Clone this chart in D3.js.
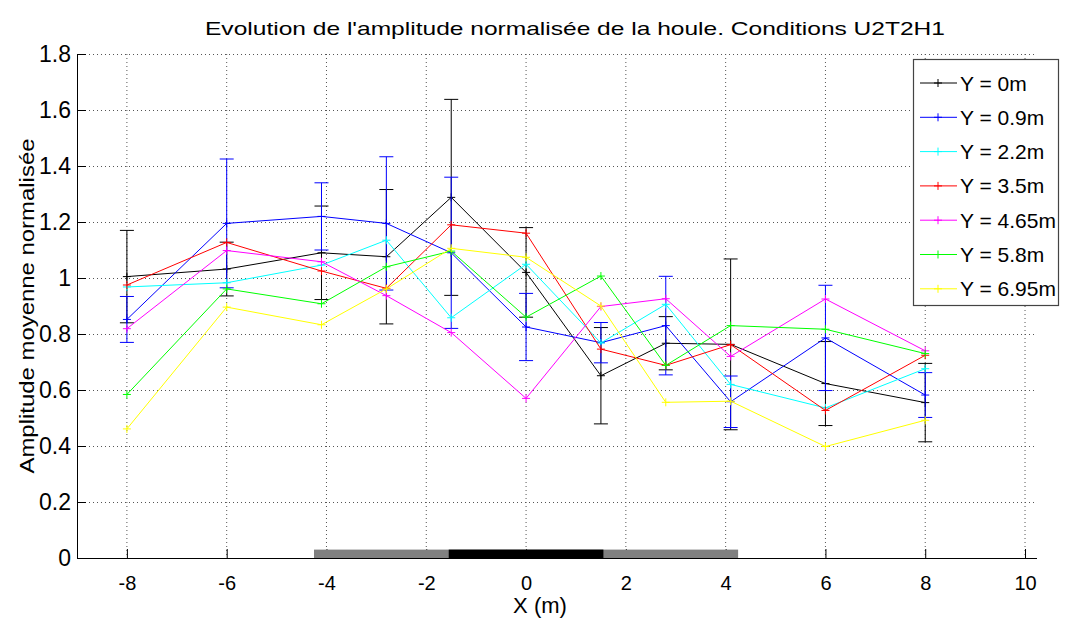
<!DOCTYPE html>
<html><head><meta charset="utf-8">
<script src="https://cdn.jsdelivr.net/npm/d3@7"></script>
<style>
body{margin:0;background:#fff;}
text{font-family:"Liberation Sans",Arial,Helvetica,sans-serif;}
</style></head>
<body><svg id="c" width="1065" height="619"></svg>
<script>
// ---- data ----
const xPos = [-8, -6, -4.1, -2.8, -1.5, 0, 1.5, 2.8, 4.1, 6, 8];
const seriesNames = ["Y = 0m","Y = 0.9m","Y = 2.2m","Y = 3.5m","Y = 4.65m","Y = 5.8m","Y = 6.95m"];
const seriesColors = ["#000000","#0000ff","#00ffff","#ff0000","#ff00ff","#00ff00","#ffff00"];
const y0   = [1.005, 1.032, 1.09, 1.076, 1.288, 1.02, 0.651, 0.767, 0.763, 0.623, 0.555];
const err0 = [0.165, 0.096, 0.167, 0.24, 0.35, 0.16, 0.172, 0.095, 0.305, 0.15, 0.14];
const y09  = [0.852, 1.195, 1.22, 1.195, 1.09, 0.825, 0.769, 0.83, 0.558, 0.786, 0.582];
const err09= [0.082, 0.23, 0.12, 0.238, 0.27, 0.12, 0.072, 0.176, 0.092, 0.188, 0.08];
const y22  = [0.968, 0.983, 1.046, 1.135, 0.858, 1.049, 0.768, 0.906, 0.62, 0.536, 0.676];
const y35  = [0.975, 1.127, 1.025, 0.963, 1.19, 1.16, 0.746, 0.688, 0.762, 0.527, 0.724];
const y465 = [0.819, 1.098, 1.058, 0.937, 0.805, 0.57, 0.898, 0.926, 0.72, 0.925, 0.74];
const y58  = [0.584, 0.961, 0.908, 1.04, 1.096, 0.86, 1.007, 0.688, 0.83, 0.817, 0.73];
const y695 = [0.461, 0.896, 0.833, 0.961, 1.106, 1.074, 0.9, 0.556, 0.56, 0.398, 0.492];
const seriesValues = [y0, y09, y22, y35, y465, y58, y695];
const seriesErrors = [err0, err09, null, null, null, null, null];
const xTicks = [-8, -6, -4, -2, 0, 2, 4, 6, 8, 10];
const xTickLabels = ["-8", "-6", "-4", "-2", "0", "2", "4", "6", "8", "10"];
const yTicks = [0, 0.2, 0.4, 0.6, 0.8, 1, 1.2, 1.4, 1.6, 1.8];
const yTickLabels = ["0", "0.2", "0.4", "0.6", "0.8", "1", "1.2", "1.4", "1.6", "1.8"];
const structGray = [-4.25, 4.25];
const structBlack = [-1.55, 1.55];
const structHeight = 0.03;
const titleText = "Evolution de l'amplitude normalisée de la houle. Conditions U2T2H1";
const xLabel = "X (m)";
const yLabel = "Amplitude moyenne normalisée";

// ---- layout ----
const L = 77, R = 1037, T = 54, B = 558;
const svg = d3.select("#c");
const x = d3.scaleLinear().domain([-9, 10.24]).range([L, R]);
const y = d3.scaleLinear().domain([0, 1.8]).range([B, T]);

// grid
const g = svg.append("g");
g.selectAll(".gx").data(xTicks).join("line")
  .attr("x1", d => x(d)).attr("x2", d => x(d)).attr("y1", T).attr("y2", B)
  .attr("stroke", "#555").attr("stroke-width", 1).attr("stroke-dasharray", "1,3");
g.selectAll(".gy").data(yTicks.filter(d => d > 0)).join("line")
  .attr("x1", L).attr("x2", R).attr("y1", d => y(d)+0.5).attr("y2", d => y(d)+0.5)
  .attr("stroke", "#555").attr("stroke-width", 1).attr("stroke-dasharray", "1,3");

// axes
const xAxis = d3.axisBottom(x).tickValues(xTicks).tickSize(-9).tickPadding(18).tickFormat((d, i) => xTickLabels[i]);
const yAxis = d3.axisLeft(y).tickValues(yTicks).tickSize(-9).tickPadding(6).tickFormat((d, i) => yTickLabels[i]);
const gx = svg.append("g").attr("transform", `translate(0,${B})`).call(xAxis);
const gy = svg.append("g").attr("transform", `translate(${L},0)`).call(yAxis);
[gx, gy].forEach(a => {
  a.select(".domain").remove();
  a.selectAll("line").attr("stroke", "#000");
  a.selectAll("text").attr("font-size", 20).attr("fill", "#000");
});
gy.selectAll("text").attr("font-size", 23);
svg.append("line").attr("x1", L).attr("x2", R).attr("y1", B+0.5).attr("y2", B+0.5).attr("stroke", "#000");
svg.append("line").attr("x1", L+0.5).attr("x2", L+0.5).attr("y1", T).attr("y2", B).attr("stroke", "#000");

// structure bars
svg.append("rect").attr("x", x(structGray[0])).attr("width", x(structGray[1]) - x(structGray[0]))
  .attr("y", y(structHeight)).attr("height", y(0) - y(structHeight)).attr("fill", "#808080");
svg.append("rect").attr("x", x(structBlack[0])).attr("width", x(structBlack[1]) - x(structBlack[0]))
  .attr("y", y(structHeight)).attr("height", y(0) - y(structHeight)).attr("fill", "#000");

// series
const line = d3.line().x((d, i) => x(xPos[i])).y(d => y(d));
const ms = 4, cap = 7;
seriesValues.forEach((vals, si) => {
  const col = seriesColors[si];
  const sg = svg.append("g");
  const errs = seriesErrors[si];
  if (errs) {
    vals.forEach((v, i) => {
      const xx = x(xPos[i]);
      sg.append("line").attr("x1", xx).attr("x2", xx).attr("y1", y(v + errs[i])).attr("y2", y(v - errs[i])).attr("stroke", col);
      [v + errs[i], v - errs[i]].forEach(e => {
        sg.append("line").attr("x1", xx - cap).attr("x2", xx + cap).attr("y1", y(e)).attr("y2", y(e)).attr("stroke", col);
      });
    });
  }
  sg.append("path").attr("d", line(vals)).attr("fill", "none").attr("stroke", col).attr("stroke-width", 1);
  vals.forEach((v, i) => {
    const xx = x(xPos[i]), yy = y(v);
    sg.append("path").attr("d", `M${xx-ms},${yy}H${xx+ms}M${xx},${yy-ms}V${yy+ms}`).attr("stroke", col).attr("fill", "none");
  });
});

// title & labels
svg.append("text").attr("x", 575).attr("y", 35).attr("text-anchor", "middle").attr("font-size", 19)
  .attr("textLength", 740).attr("lengthAdjust", "spacingAndGlyphs").text(titleText);
svg.append("text").attr("x", 540).attr("y", 613).attr("text-anchor", "middle").attr("font-size", 22).text(xLabel);
svg.append("text").attr("transform", "translate(34,306) rotate(-90)").attr("text-anchor", "middle")
  .attr("font-size", 21).attr("textLength", 335).attr("lengthAdjust", "spacingAndGlyphs").text(yLabel);

// legend
const lg = svg.append("g");
lg.append("rect").attr("x", 913.5).attr("y", 59.5).attr("width", 145).attr("height", 246)
  .attr("fill", "#fff").attr("stroke", "#444").attr("stroke-width", 1.2);
seriesNames.forEach((n, i) => {
  const yy = 83 + i * 34.3;
  lg.append("line").attr("x1", 920).attr("x2", 957).attr("y1", yy).attr("y2", yy).attr("stroke", seriesColors[i]);
  lg.append("path").attr("d", `M934,${yy}H942M938,${yy-4}V${yy+4}`).attr("stroke", seriesColors[i]);
  lg.append("text").attr("x", 960).attr("y", yy + 7.5).attr("font-size", 21).text(n);
});
</script></body></html>
